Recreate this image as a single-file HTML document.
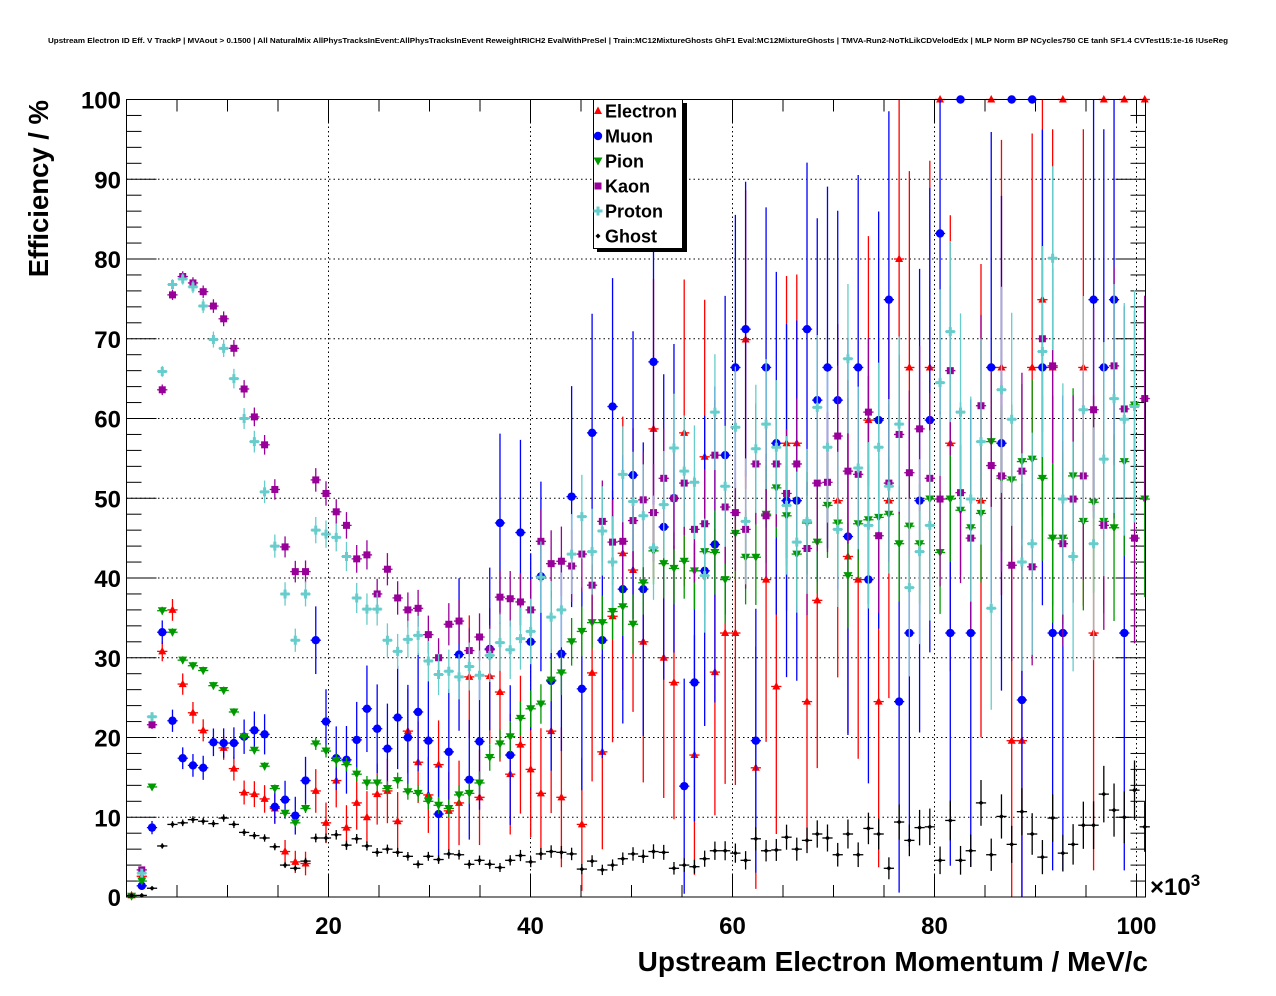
<!DOCTYPE html>
<html><head><meta charset="utf-8">
<style>
html,body{margin:0;padding:0;background:#fff;}
svg{display:block;}
text{font-family:"Liberation Sans",Arial,sans-serif;font-weight:bold;}
</style></head>
<body>
<svg id="chart" width="1276" height="996" viewBox="0 0 1276 996" xmlns="http://www.w3.org/2000/svg">
<rect x="0" y="0" width="1276" height="996" fill="#fff"/>
<text x="48" y="43" font-size="7.5" textLength="1180" lengthAdjust="spacingAndGlyphs">Upstream Electron ID Eff. V TrackP | MVAout &gt; 0.1500 | All NaturalMix AllPhysTracksInEvent:AllPhysTracksInEvent ReweightRICH2 EvalWithPreSel | Train:MC12MixtureGhosts GhF1 Eval:MC12MixtureGhosts | TMVA-Run2-NoTkLikCDVelodEdx | MLP Norm BP NCycles750 CE tanh SF1.4 CVTest15:1e-16 !UseReg</text>
<g id="grid"></g>
<g id="axes"></g>
<g id="series"></g>
<rect x="126.5" y="99.5" width="1019" height="797.5" fill="none" stroke="#000" stroke-width="1"/>
<text x="1148" y="971" font-size="28" text-anchor="end">Upstream Electron Momentum / MeV/c</text>
<text x="1150" y="895" font-size="24">×10<tspan font-size="17" dy="-9">3</tspan></text>
<text transform="translate(48,100) rotate(-90)" font-size="27.5" text-anchor="end">Efficiency / %</text>
<g id="legend">
<rect x="597" y="103" width="90" height="149" fill="#000"/>
<rect x="593.5" y="99.5" width="89" height="149" fill="#fff" stroke="#000" stroke-width="1"/>
</g>
</svg>
<script>
// ---- data: efficiency (%) per momentum bin ----
const nBins = 100;
const electronValues = [0.2,2.6,null,30.8,36.0,26.7,23.1,20.9,null,18.7,16.1,13.1,12.9,12.3,11.1,5.7,4.4,4.2,13.3,9.3,14.6,8.7,11.8,10.0,12.9,13.3,9.5,20.8,16.9,12.8,16.6,10.8,11.8,27.6,12.5,27.7,25.7,15.4,19.1,16.0,13.0,20.8,12.5,null,9.1,28.1,18.2,35.2,43.1,41.0,32.0,58.7,30.0,26.9,58.2,17.8,55.2,28.2,33.1,33.1,69.9,16.2,39.8,26.4,56.9,56.9,24.5,37.2,null,49.7,42.7,39.8,59.8,24.5,49.7,80.0,66.4,null,66.4,100,56.9,null,null,49.7,100,66.4,19.6,19.6,66.4,74.9,66.4,100,null,66.4,33.1,100,null,100,null,100];
const muonValues = [null,1.4,8.7,33.2,22.1,17.4,16.5,16.2,19.4,19.3,19.3,20.1,20.9,20.4,11.3,12.2,10.2,14.6,32.2,22.0,17.4,17.2,19.7,23.6,21.1,18.6,22.5,20.0,23.2,19.6,10.4,18.2,30.4,14.7,19.5,31.1,46.9,17.8,45.7,32.0,40.2,27.1,30.5,50.2,26.1,58.2,32.2,61.5,38.6,52.9,38.6,67.1,46.4,50.0,13.9,26.9,40.9,44.2,55.4,66.4,71.2,19.6,66.4,56.9,49.7,49.7,71.2,62.3,66.4,62.3,45.2,66.4,39.8,59.8,74.9,24.5,33.1,49.7,59.8,83.2,33.1,100,33.1,null,66.4,56.9,100,24.7,100,66.4,33.1,33.1,null,null,74.9,66.4,74.9,33.1,null,null];
const pionValues = [0.1,2.0,13.8,35.9,33.2,29.7,29.0,28.4,26.5,25.9,23.2,20.1,18.4,16.4,13.6,10.5,9.3,11.1,19.2,18.3,17.1,16.6,15.4,14.3,14.3,13.6,14.6,13.2,13.0,12.0,11.5,11.1,12.8,13.0,14.3,17.5,19.2,20.1,22.4,23.6,24.2,27.2,28.1,32.0,33.3,34.4,34.4,35.8,36.4,34.2,39.4,43.4,41.8,41.2,42.1,40.9,43.3,43.2,39.8,45.6,42.6,42.6,48.0,51.3,47.8,43.0,46.9,44.5,49.1,46.9,40.3,46.8,47.3,47.6,48.0,44.3,46.5,44.3,49.9,43.2,49.9,48.5,46.3,48.1,57.1,52.5,52.3,54.6,54.9,52.5,45.0,45.0,52.8,47.1,49.5,47.1,46.3,54.6,61.7,49.9];
const kaonValues = [null,3.4,21.6,63.6,75.5,77.8,77.0,75.9,74.1,72.5,68.8,63.7,60.2,56.7,51.1,43.9,40.8,40.8,52.3,50.6,48.3,46.6,42.4,42.9,38.0,41.1,37.5,36.0,36.2,32.9,30.0,34.2,34.6,30.9,32.6,31.0,37.6,37.4,37.0,36.0,44.6,41.8,42.1,41.5,43.0,39.1,47.1,44.5,44.6,47.2,49.8,48.2,52.5,50.0,51.9,46.1,46.8,55.4,48.9,48.2,46.1,54.3,47.8,54.3,50.6,54.3,43.7,51.9,52.0,57.8,53.4,53.0,60.8,45.3,51.9,58.0,53.2,58.7,52.5,49.9,66.0,50.7,45.0,61.6,54.1,52.8,41.6,53.4,41.4,70.0,66.6,44.3,49.9,52.8,61.1,46.6,66.6,61.2,45.0,62.5];
const protonValues = [null,3.0,22.6,65.9,76.8,77.5,76.5,74.1,69.9,68.8,65.0,60.0,57.1,50.8,44.0,38.0,32.2,38.0,46.0,45.5,45.1,42.7,37.5,36.1,36.1,32.2,30.8,32.3,32.8,29.6,27.9,28.3,27.6,28.9,27.8,30.3,31.9,31.0,32.4,33.3,40.1,35.1,36.0,43.0,47.7,43.3,45.9,42.0,53.0,49.6,47.8,43.8,49.2,56.3,53.4,52.0,40.3,60.8,51.5,58.9,47.1,56.2,59.3,56.4,49.1,44.5,47.1,61.4,56.4,46.1,67.5,53.8,46.6,56.4,51.5,59.3,38.8,43.3,46.6,64.5,70.9,60.8,49.9,57.1,36.2,63.6,59.9,42.0,44.3,68.4,80.1,49.9,42.7,61.1,44.3,54.9,62.5,59.9,61.5,null];
const ghostValues = [0.2,0.2,1.1,6.4,9.1,9.3,9.7,9.5,9.2,9.9,9.1,8.1,7.7,7.4,6.3,4.0,3.6,4.5,7.4,7.4,7.8,6.5,7.3,6.4,5.6,6.0,5.6,5.1,4.1,5.1,4.7,5.4,5.3,4.1,4.6,4.1,3.7,4.6,5.2,4.4,5.4,5.7,5.6,5.4,3.5,4.5,3.4,4.0,4.8,5.4,5.1,5.7,5.6,3.6,4.0,3.8,4.8,5.8,5.8,5.5,4.6,7.3,5.8,5.9,7.5,6.0,7.1,7.9,7.4,5.3,7.9,5.3,8.6,7.9,3.6,9.4,7.1,8.7,8.8,4.6,9.6,4.6,5.8,11.8,5.3,10.1,6.6,10.7,7.9,5.0,9.9,5.5,6.6,9.0,9.0,12.9,10.9,10.0,13.4,8.8];
// approximate entries per bin (anchors every 10 bins) used for binomial error bars
const electronEntries = [2000,600,110,45,17,7,6,5,3,2.5,2.5];
const muonEntries = [1500,400,90,25,17,7,6,4,2.6,2.5,2.5];
const pionEntries = [10000,8000,2000,900,300,150,70,55,40,22,16];
const kaonEntries = [8000,2000,1000,350,150,70,45,30,20,15,14];
const protonEntries = [8000,1500,800,300,120,60,40,25,16,12,11];
const ghostEntries = [6000,4000,2000,1500,900,700,330,220,140,100,80];
const yTicks = [0,10,20,30,40,50,60,70,80,90,100];
const xTicks = [20,40,60,80,100];
const legendLabels = ["Electron","Muon","Pion","Kaon","Proton","Ghost"];

// ---- axes ----
const PL=126.5, PR=1145.5, PT=99.5, PB=897;
const binW=1.0133;
function xs(v){return PL+v*10.1;}
function ys(v){return PB-(v/100)*(PB-PT);}
function binCenter(i){return 0.5+i*binW;}
const NS="http://www.w3.org/2000/svg";
function mk(tag,attrs,parent){const e=document.createElementNS(NS,tag);for(const k in attrs)e.setAttribute(k,attrs[k]);parent.appendChild(e);return e;}

const grid=document.getElementById('grid');
const axes=document.getElementById('axes');
yTicks.forEach(t=>{
  if(t>0&&t<100){const l=mk('line',{x1:PL,x2:PR,y1:ys(t),y2:ys(t),stroke:'#000','stroke-width':1,'stroke-dasharray':'1.5,3'},grid);
  
  }
  const lab=mk('text',{x:121,y:ys(t)+9,'font-size':24,'text-anchor':'end'},axes);
  lab.textContent=t;
  
  
});
for(let v=0;v<=100;v+=2){
  const major=v%10===0;const len=major?30:15;
  const a=mk('line',{x1:PL,x2:PL+len,y1:ys(v),y2:ys(v),stroke:'#000','stroke-width':1},axes);
  
  
  const b=mk('line',{x1:PR,x2:PR-len,y1:ys(v),y2:ys(v),stroke:'#000','stroke-width':1},axes);
  
  
}
xTicks.forEach(t=>{
  const l=mk('line',{x1:xs(t),x2:xs(t),y1:PT,y2:PB,stroke:'#000','stroke-width':1,'stroke-dasharray':'1.5,3'},grid);
  
  
  const lab=mk('text',{x:xs(t),y:934,'font-size':24,'text-anchor':'middle'},axes);
  lab.textContent=t;
  
  
});
for(let v=5;v<=100;v+=5){
  const major=v%20===0;const len=major?23:12;
  const a=mk('line',{x1:xs(v),x2:xs(v),y1:PB,y2:PB-len,stroke:'#000','stroke-width':1},axes);
  
  
  const b=mk('line',{x1:xs(v),x2:xs(v),y1:PT,y2:PT+len,stroke:'#000','stroke-width':1},axes);
  
  
}

// ---- series ----
const seriesDefs=[
 {name:'electron',vals:electronValues,ent:electronEntries,color:'#ff0000',shape:'tri-up'},
 {name:'muon',vals:muonValues,ent:muonEntries,color:'#0000ff',shape:'circle'},
 {name:'pion',vals:pionValues,ent:pionEntries,color:'#009900',shape:'tri-down'},
 {name:'kaon',vals:kaonValues,ent:kaonEntries,color:'#990099',shape:'square'},
 {name:'proton',vals:protonValues,ent:protonEntries,color:'#66cccc',shape:'plus'},
 {name:'ghost',vals:ghostValues,ent:ghostEntries,color:'#000000',shape:'diamond'}
];
function entriesAt(arr,i){const f=i/10;const a=Math.floor(f),b=Math.min(a+1,arr.length-1);const t=f-a;return Math.exp(Math.log(arr[a])*(1-t)+Math.log(arr[b])*t);}
function marker(shape,cx,cy,color,parent){
  let e;
  if(shape==='circle')e=mk('circle',{cx:cx,cy:cy,r:4.2,fill:color},parent);
  else if(shape==='tri-up')e=mk('polygon',{points:`${cx},${cy-4.5} ${cx-4},${cy+3} ${cx+4},${cy+3}`,fill:color},parent);
  else if(shape==='tri-down')e=mk('polygon',{points:`${cx},${cy+4.5} ${cx-4.5},${cy-3.5} ${cx+4.5},${cy-3.5}`,fill:color},parent);
  else if(shape==='square')e=mk('rect',{x:cx-3.5,y:cy-3.5,width:7,height:7,fill:color},parent);
  else if(shape==='plus')e=mk('path',{d:`M${cx-4.5},${cy-1.5}h3v-3h3v3h3v3h-3v3h-3v-3h-3z`,fill:color},parent);
  else e=mk('polygon',{points:`${cx},${cy-2.5} ${cx-2.5},${cy} ${cx},${cy+2.5} ${cx+2.5},${cy}`,fill:color},parent);
  return e;
}
const layer=document.getElementById('series');
seriesDefs.forEach(s=>{
  const g=mk('g',{},layer);
  
  
  s.vals.forEach((v,i)=>{
    if(v===null||v===undefined)return;
    const xc=binCenter(i);const cx=xs(xc),cy=ys(v);
    const n=entriesAt(s.ent,i);
    const err=Math.sqrt(Math.max(v*(100-v),0)/n);
    const lo=Math.max(0,v-err),hi=Math.min(100,v+err);
    const eb=mk('line',{x1:cx,x2:cx,y1:ys(lo),y2:ys(hi),stroke:s.color,'stroke-width':1.3},g);
    
    
    const hb=mk('line',{x1:xs(xc-binW/2),x2:xs(xc+binW/2),y1:cy,y2:cy,stroke:s.color,'stroke-width':1.3},g);
    
    
    const m=marker(s.shape,cx,cy,s.color,g);
    
    
  });
});

// ---- legend ----
const leg=document.getElementById('legend');
legendLabels.forEach((lab,k)=>{
  const y=111+k*25;
  const s=seriesDefs[k];
  const m=marker(s.shape,598,y,s.color,leg);
  
  
  const t=mk('text',{x:605,y:y+6.5,'font-size':18},leg);
  t.textContent=lab;
  
  
});
</script>
</body></html>
